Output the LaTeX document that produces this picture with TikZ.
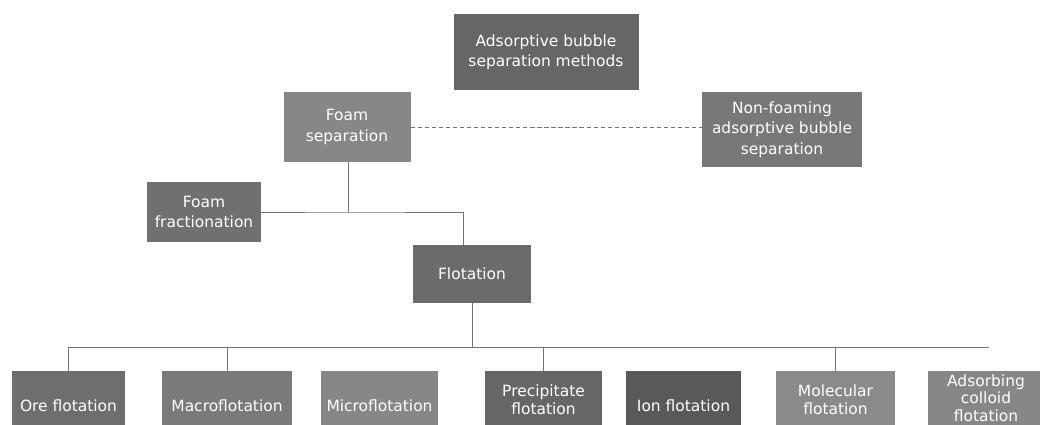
\documentclass[tikz,border=0pt]{standalone}
\usepackage{fontspec}
\setmainfont{DejaVu Sans}

\tikzset{
  box/.style={fill=#1, text=white, align=center, inner sep=0pt,
              font=\fontsize{11}{14.5}\selectfont},
  box/.default={black!58},
  lowbox/.style={box=#1, font=\fontsize{11}{13}\selectfont,
                 minimum height=1.45cm},
  link/.style={draw=black!55, line width=0.5pt},
}

\begin{document}
\begin{tikzpicture}
            \useasboundingbox (0, 0) rectangle (26, 10.625);

            \node [box=black!60, minimum width=4.625cm, minimum height=1.9cm]   (abs)  at (13.65, 9.325)  {Adsorptive bubble\\separation methods};
            \node [box=black!47, minimum width=3.175cm, minimum height=1.75cm]  (fs)   at (8.675, 7.45)   {Foam\\separation};
            \node [box=black!53, minimum width=4cm,     minimum height=1.875cm] (nf)   at (19.55, 7.3875) {Non-foaming\\adsorptive bubble\\separation};
            \node [box=black!56, minimum width=2.85cm,  minimum height=1.5cm]   (ff)   at (5.1, 5.325)    {Foam\\fractionation};
            \node [box=black!58, minimum width=2.95cm,  minimum height=1.45cm]  (flot) at (11.8, 3.775)   {Flotation};

            \node [box=black!57, minimum width=2.825cm, minimum height=1.75cm] (ore)    at (1.7125, 0.475)  {Ore flotation};
            \node [box=black!52, minimum width=3.25cm,  minimum height=1.75cm] (macro)  at (5.675, 0.475)   {Macroflotation};
            \node [box=black!47, minimum width=2.925cm, minimum height=1.75cm] (micro)  at (9.4875, 0.475)  {Microflotation};
            \node [lowbox=black!60, minimum width=2.925cm] (precip) at (13.5875, 0.625) {Precipitate\\flotation};
            \node [box=black!65, minimum width=2.875cm, minimum height=1.75cm] (ion)    at (17.0875, 0.475) {Ion flotation};
            \node [lowbox=black!46, minimum width=2.975cm] (molec)  at (20.8875, 0.625) {Molecular\\flotation};
            \node [lowbox=black!47, minimum width=2.9cm, minimum height=1.35cm,
                   font=\fontsize{11}{12.5}\selectfont] (acf)   at (24.65, 0.675)   {Adsorbing\\colloid\\flotation};

            \coordinate (fj)   at (8.7, 5.325);
            \coordinate (busL) at (1.7, 1.95);
            \coordinate (busR) at (24.725, 1.95);

            \draw [link, densely dashed] (fs) -- (fs -| nf.west);
            \draw [link] (fs.south -| fj) -- (fj);
            \draw [link] (ff.east) -- (fj) -| ([xshift=-0.225cm]flot.north);

            \draw [link] (flot.south) -- (flot.south |- busL);
            \draw [link] (busL) -- (busR);
            \foreach \n in {ore, macro, precip, molec}
              \draw [link] (\n.north) -- (\n.north |- busL);
          \end{tikzpicture}
\end{document}
